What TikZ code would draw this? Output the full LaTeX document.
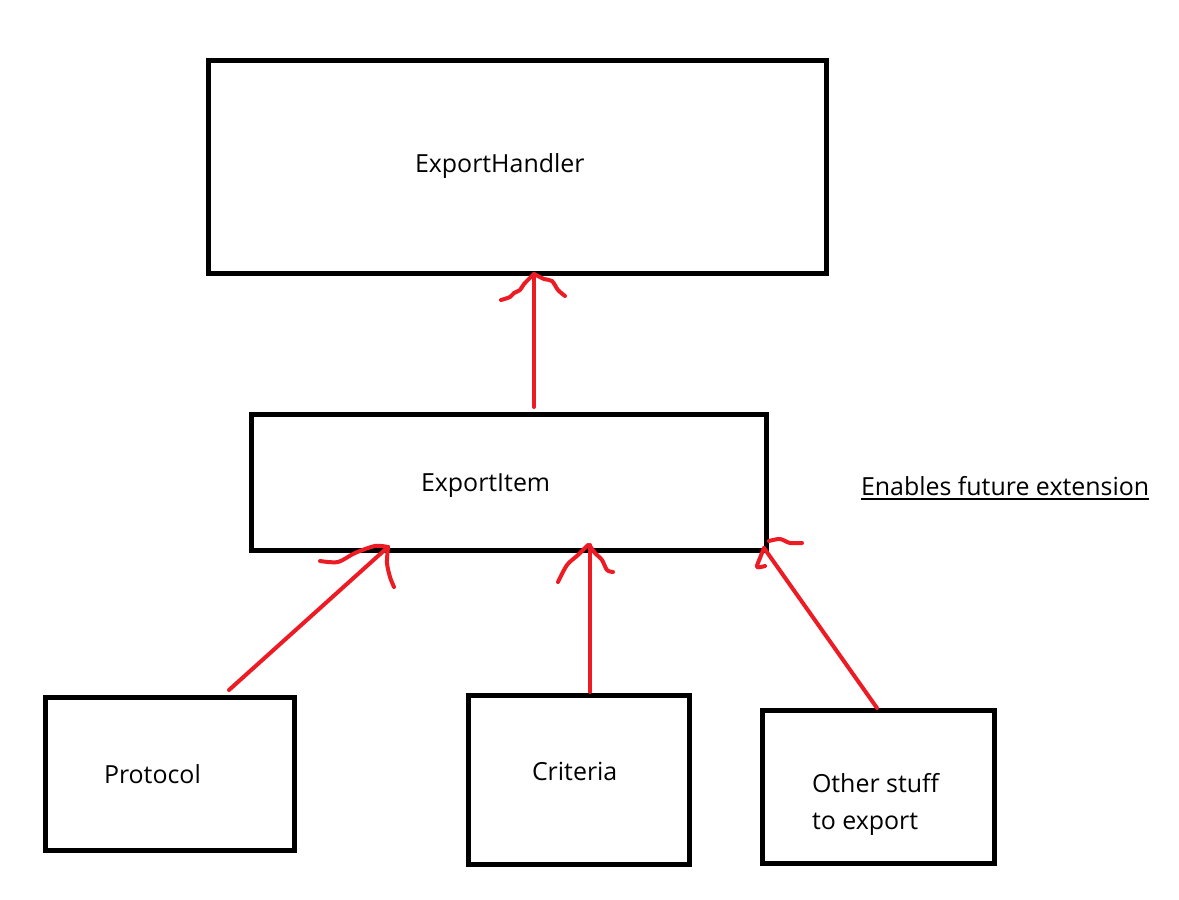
\documentclass[tikz,border=0pt]{standalone}
\usepackage{fontspec}
\setmainfont{Open Sans}
\definecolor{paintred}{HTML}{ED1C24}
\begin{document}
\begin{tikzpicture}[x=0.75pt,y=-0.75pt,
  box/.style={draw=black,line width=3.75pt,rectangle,inner sep=0pt,outer sep=0pt},
  lbl/.style={inner sep=0pt,outer sep=0pt,anchor=base west,font=\fontsize{18.7pt}{22pt}\selectfont},
  redline/.style={draw=paintred,line width=3pt,line cap=round,line join=round},
  head/.style={draw=paintred,line width=3pt,line cap=round,line join=round}]
\useasboundingbox[fill=white] (0,0) rectangle (1179,900);
% boxes
\node[box,minimum width=463.5pt,minimum height=159.75pt] (handler) at (517,167) {};
\node[box,minimum width=386.25pt,minimum height=102pt] (item) at (508.5,482) {};
\node[box,minimum width=186.75pt,minimum height=114.75pt] (proto) at (169.5,773.5) {};
\node[box,minimum width=165.75pt,minimum height=126.75pt] (crit) at (578.5,779.5) {};
\node[box,minimum width=174pt,minimum height=114.75pt] (other) at (878,786.5) {};
% labels
\node[lbl] (tH) at (415,172) {ExportHandler};
\node[lbl] (tI) at (421,491) {ExportItem};
\node[lbl] (tP) at (104,783) {Protocol};
\node[lbl] (tC) at (532,780) {Criteria};
\node[lbl] (tO1) at (812,792) {Other stuff};
\node[lbl] (tO2) at (812,829) {to export};
\node[lbl] (tE) at (861,495) {Enables future extension};
\draw[line width=1.3pt] ([yshift=-3.2pt]tE.base west) -- ([yshift=-3.2pt]tE.base east);
% connector end points
\coordinate (hIn) at (534,274);
\coordinate (iOut) at (534,407);
\coordinate (pOut) at (229,690);
\coordinate (pIn) at (388,547);
\coordinate (cOut) at (590,692);
\coordinate (cIn) at (590,545);
\coordinate (oOut) at (877,708);
\coordinate (oIn) at (764,548);
% connectors
\draw[redline] (iOut) -- (hIn);
\draw[redline] (pOut) -- (pIn);
\draw[redline] (cOut) -- (cIn);
\draw[redline] (oOut) -- (oIn);
% hand-drawn arrow heads
\draw[head] plot[smooth,tension=0.5] coordinates {(501,300) (510,297) (514,293) (520,290) (524,284) (534,274)};
\draw[head] plot[smooth,tension=0.5] coordinates {(534,274) (544,279) (552,281) (558,290) (565,296)};
\draw[head] plot[smooth,tension=0.5] coordinates {(320,561) (338,562) (355,553) (375,546) (388,547)};
\draw[head] plot[smooth,tension=0.5] coordinates {(388,547) (387,563) (390,577) (394,587)};
\draw[head] plot[smooth,tension=0.5] coordinates {(558,582) (567,565) (578,555) (588,545)};
\draw[head] plot[smooth,tension=0.5] coordinates {(590,546) (595,553) (602,560) (607,570) (613,572)};
\draw[head] plot[smooth,tension=0.5] coordinates {(764,548) (760,558) (757,567) (765,566)};
\draw[head] plot[smooth,tension=0.5] coordinates {(769,541) (780,539) (790,543) (802,543)};
\end{tikzpicture}
\end{document}
